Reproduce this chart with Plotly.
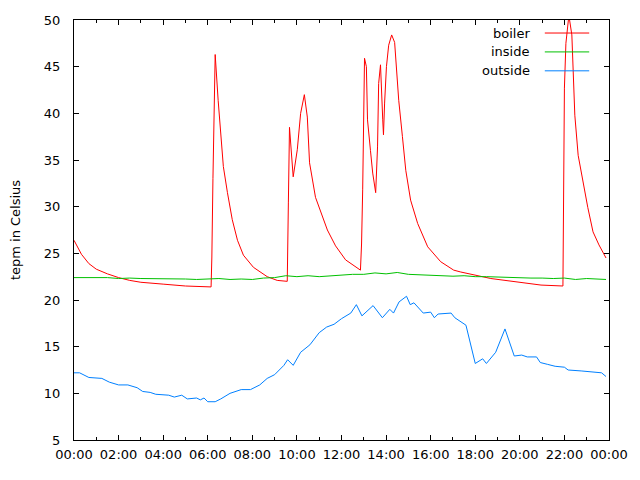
import plotly.graph_objects as go

day = "2012-01-01 "

boiler_t = ["00:00", "00:20", "00:40", "01:00", "01:30", "02:00", "02:30", "03:00", "04:00", "05:00",
            "06:09", "06:11", "06:14", "06:17", "06:20", "06:28", "06:34", "06:42", "06:53", "07:06",
            "07:20", "07:36", "08:03", "08:40", "09:07", "09:34", "09:37", "09:40", "09:50", "10:01",
            "10:10", "10:20", "10:28", "10:34", "10:50", "11:03", "11:22", "11:44", "12:11", "12:51",
            "12:54", "12:57", "12:59", "13:02", "13:07", "13:10", "13:18", "13:24", "13:32", "13:37",
            "13:40", "13:45", "13:51", "13:53", "13:56", "14:01", "14:07", "14:15", "14:23", "14:28",
            "14:34", "14:44", "14:53", "15:06", "15:25", "15:52", "16:27", "17:02", "17:21", "18:42",
            "20:03", "20:57", "21:56", "21:57", "21:58", "22:00", "22:04", "22:12", "22:20", "22:23",
            "22:28", "22:37", "22:50", "23:03", "23:17", "23:33", "23:52"]
boiler_v = [26.4, 24.9, 23.9, 23.3, 22.8, 22.4, 22.1, 21.9, 21.7, 21.5,
            21.4, 24.5, 33.0, 41.0, 46.3, 41.4, 37.9, 34.3, 31.5, 28.6,
            26.4, 24.8, 23.5, 22.5, 22.1, 22.0, 30.4, 38.5, 33.2, 36.1,
            40.0, 42.0, 39.6, 34.7, 31.0, 29.5, 27.5, 25.8, 24.3, 23.2,
            26.0, 31.8, 37.5, 45.9, 45.0, 39.3, 36.0, 33.6, 31.5, 36.4,
            43.2, 45.2, 39.3, 37.7, 41.1, 45.0, 47.3, 48.4, 47.6, 44.6,
            41.4, 37.5, 33.9, 30.7, 28.2, 25.7, 24.1, 23.2, 23.0, 22.3,
            21.9, 21.6, 21.5, 25.5, 34.3, 42.7, 47.5, 50.5, 48.4, 44.6,
            39.8, 35.5, 32.6, 29.9, 27.3, 25.9, 24.5]

inside_t = ["00:00", "00:30", "01:00", "01:30", "02:00", "02:30", "03:00", "03:30", "04:00", "04:30",
            "05:00", "05:30", "06:00", "06:30", "07:00", "07:30", "08:00", "08:30", "09:00", "09:30",
            "10:00", "10:30", "11:00", "11:30", "12:00", "12:30", "13:00", "13:30", "14:00", "14:30",
            "15:00", "15:30", "16:00", "16:30", "17:00", "17:30", "18:00", "18:30", "19:00", "19:30",
            "20:00", "20:30", "21:00", "21:30", "22:00", "22:30", "23:00", "23:30", "23:52"]
inside_v = [22.4, 22.4, 22.35, 22.4, 22.3, 22.35, 22.3, 22.3, 22.3, 22.25,
            22.25, 22.2, 22.25, 22.3, 22.2, 22.25, 22.2, 22.35, 22.4, 22.6,
            22.5, 22.6, 22.5, 22.6, 22.7, 22.75, 22.75, 22.9, 22.8, 22.95,
            22.75, 22.7, 22.6, 22.6, 22.55, 22.6, 22.5, 22.5, 22.45, 22.45,
            22.4, 22.35, 22.35, 22.3, 22.35, 22.2, 22.3, 22.25, 22.2]

outside_t = ["00:00", "00:15", "00:40", "01:15", "01:35", "02:00", "02:25", "02:50", "03:05", "03:25",
             "03:40", "04:15", "04:30", "04:50", "05:05", "05:30", "05:40", "05:50", "06:00", "06:20",
             "06:35", "07:00", "07:30", "07:55", "08:20", "08:40", "09:00", "09:25", "09:35", "09:50",
             "10:10", "10:35", "11:00", "11:20", "11:40", "12:00", "12:25", "12:40", "12:55", "13:25",
             "13:50", "14:10", "14:20", "14:35", "14:55", "15:05", "15:15", "15:40", "16:00", "16:10",
             "16:20", "16:55", "17:05", "17:25", "17:35", "18:00", "18:20", "18:30", "18:55", "19:20",
             "19:35", "19:45", "20:05", "20:20", "20:45", "20:55", "21:15", "21:35", "22:00", "22:10",
             "22:45", "23:20", "23:40", "23:52"]
outside_v = [12.2, 12.2, 11.7, 11.6, 11.2, 10.9, 10.9, 10.6, 10.2, 10.1,
             9.9, 9.8, 9.6, 9.8, 9.4, 9.5, 9.3, 9.5, 9.1, 9.1,
             9.4, 10.0, 10.4, 10.4, 10.9, 11.6, 12.0, 13.0, 13.6, 13.0,
             14.4, 15.2, 16.5, 17.1, 17.4, 18.0, 18.6, 19.5, 18.3, 19.4,
             18.1, 19.0, 18.6, 19.8, 20.4, 19.5, 19.7, 18.6, 18.7, 18.1,
             18.5, 18.6, 18.1, 17.6, 17.3, 13.2, 13.7, 13.2, 14.4, 16.9,
             15.0, 14.0, 14.1, 13.9, 13.9, 13.3, 13.1, 12.9, 12.8, 12.5,
             12.4, 12.3, 12.2, 11.8]

series = [("boiler", boiler_t, boiler_v, "#ff0000"),
          ("inside", inside_t, inside_v, "#00c000"),
          ("outside", outside_t, outside_v, "#0080ff")]

font = dict(family="DejaVu Sans", size=13, color="#000000")

fig = go.Figure()
for name, t, v, col in series:
    fig.add_trace(go.Scatter(x=[day + s for s in t], y=v, mode="lines", name=name,
                             line=dict(color=col, width=1), showlegend=False))

# gnuplot-style key: text right-aligned, sample line on its right
key_y = [0.969, 0.924, 0.879]
for (name, t, v, col), ky in zip(series, key_y):
    fig.add_annotation(x=0.856, y=ky, xref="paper", yref="paper", text=name,
                       showarrow=False, xanchor="right", yanchor="middle", font=font)
    fig.add_shape(type="line", xref="paper", yref="paper", x0=0.880, x1=0.963, y0=ky, y1=ky,
                  line=dict(color=col, width=1))

fig.update_xaxes(range=[day + "00:00", "2012-01-02 00:00"], tickformat="%H:%M", dtick=7200000,
                 ticks="inside", ticklen=5, tickcolor="black", showline=True, linecolor="black",
                 linewidth=1, mirror="allticks", showgrid=False, zeroline=False, tickfont=font,
                 automargin=False, ticklabelstandoff=2,
                 minor=dict(dtick=3600000, ticks="inside", ticklen=3, tickcolor="black", showgrid=False))
fig.update_yaxes(range=[5, 50], dtick=5, ticks="inside", ticklen=5, tickcolor="black",
                 showline=True, linecolor="black", linewidth=1, mirror="allticks", showgrid=False,
                 zeroline=False, tickfont=font, ticklabelstandoff=10, automargin=False,
                 title=dict(text="tepm in Celsius", font=font, standoff=22))
# page body adds ~8px offset, so margins are trimmed to land the box where the reference has it
fig.update_layout(width=640, height=480, margin=dict(l=66, r=39, t=12, b=48),
                  plot_bgcolor="white", paper_bgcolor="white", font=font)
fig.write_html("out.html")
